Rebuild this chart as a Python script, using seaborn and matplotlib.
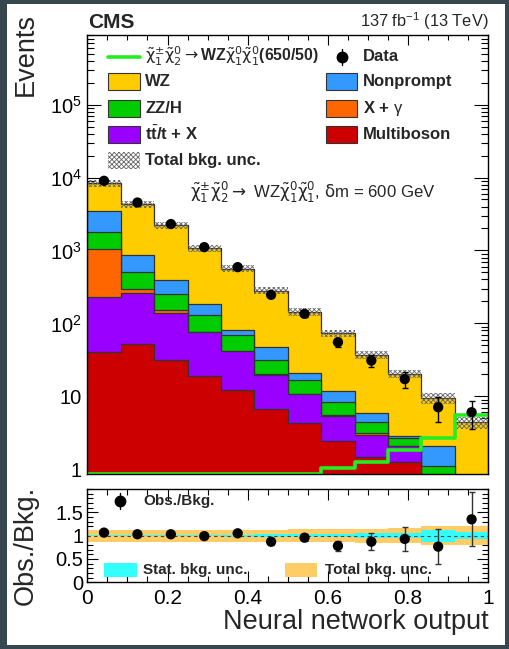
import numpy as np
import pandas as pd
import matplotlib
matplotlib.use("Agg")
import matplotlib.pyplot as plt
import seaborn as sns
from matplotlib.patches import Rectangle
from matplotlib.lines import Line2D
from matplotlib.ticker import FixedLocator, FixedFormatter, MultipleLocator, LogLocator, NullFormatter

# ---------------- data ----------------
bin_edges = [0.0, 1 / 12, 2 / 12, 3 / 12, 4 / 12, 5 / 12, 6 / 12, 7 / 12, 8 / 12, 9 / 12, 10 / 12, 11 / 12, 1.0]
multiboson = [41, 52, 31, 19.2, 12.2, 6.7, 4.36, 2.47, 1.49, 1.27, 0.3, 0.2]
ttx        = [188, 208, 107, 57, 29.4, 13, 6.3, 2.9, 1.46, 0.82, 0.2, 0.1]
xgamma     = [833, 35, 15, 0.8, 0.5, 0.3, 0.2, 0.1, 0.18, 0.0, 0.0, 0.0]
zzh        = [754, 209, 98, 54, 27.3, 11.9, 6.1, 2.9, 1.38, 0.6, 0.6, 0.2]
nonprompt  = [1604, 375, 140, 53, 11.8, 15, 3.9, 3.6, 1.3, 0.14, 1.0, 0.1]
wz         = [4960, 3441, 1854, 897, 484, 235, 124, 61.5, 31.2, 17.5, 7.3, 3.8]
signal     = [0.3, 0.3, 0.3, 0.3, 0.3, 0.3, 0.3, 1.03, 1.25, 1.84, 2.7, 5.5]
data       = [9010, 4540, 2300, 1110, 590, 246, 135, 55.2, 30.9, 17.2, 7.08, 6.05]
data_err   = [95, 67, 48, 33, 24, 16, 11.6, 7.4, 5.6, 4.1, 2.7, 2.5]
ratio      = [1.065, 1.03, 1.03, 0.99, 1.05, 0.87, 0.957, 0.78, 0.87, 0.93, 0.765, 1.35]
ratio_err  = [0.01, 0.016, 0.02, 0.03, 0.04, 0.06, 0.08, 0.1, 0.18, 0.26, 0.37, 0.58]
total_unc_rel = [0.13, 0.13, 0.13, 0.13, 0.13, 0.13, 0.14, 0.14, 0.15, 0.16, 0.20, 0.21]
stat_unc_rel  = [0.01, 0.01, 0.012, 0.015, 0.02, 0.025, 0.03, 0.035, 0.06, 0.05, 0.13, 0.08]

process_names = ["Multiboson", "tt/t + X", "X + γ", "ZZ/H", "Nonprompt", "WZ"]
colors = ["#cc0000", "#9900ff", "#ff6600", "#00cc00", "#3399ff", "#ffcc00"]
yticks_main = [1, 10, 1e2, 1e3, 1e4, 1e5]
yticklabels_main = ["1", "10", r"$10^{2}$", r"$10^{3}$", r"$10^{4}$", r"$10^{5}$"]
xticks = [0, 0.2, 0.4, 0.6, 0.8, 1.0]
xticklabels = ["0", "0.2", "0.4", "0.6", "0.8", "1"]
rticks = [0, 0.5, 1.0, 1.5]
rticklabels = ["0", "0.5", "1", "1.5"]

# ---------------- style ----------------
sns.set_theme(style="ticks")
plt.rcParams["font.family"] = ["Liberation Sans", "DejaVu Sans"]
plt.rcParams["mathtext.fontset"] = "custom"
plt.rcParams["mathtext.rm"] = "Liberation Sans"
plt.rcParams["mathtext.it"] = "Liberation Sans:italic"
plt.rcParams["mathtext.bf"] = "Liberation Sans:bold"
plt.rcParams["hatch.linewidth"] = 0.6

W, H = 510, 649
fig = plt.figure(figsize=(W / 100, H / 100), dpi=100)
fig.patch.set_facecolor("#37474f")
fig.add_artist(Rectangle((7 / W, 4 / H), 498 / W, 641 / H, transform=fig.transFigure,
                         facecolor="white", edgecolor="none", zorder=0))

def fx(px):
    return px / W

def fy(py):
    return 1 - py / H

L, R = 87.3, 488.3
ax = fig.add_axes([fx(L), fy(474), fx(R) - fx(L), fy(35) - fy(474)])
rax = fig.add_axes([fx(L), fy(582.3), fx(R) - fx(L), fy(489) - fy(582.3)])

edges = np.array(bin_edges)
centers = 0.5 * (edges[:-1] + edges[1:])
ymin, ymax = 0.86, 9e5

# ---------------- stacked backgrounds ----------------
cum = np.cumsum(np.array([multiboson, ttx, xgamma, zzh, nonprompt, wz]), axis=0)
for i in reversed(range(len(colors))):
    df = pd.DataFrame({"nn": centers, "events": cum[i]})
    sns.histplot(data=df, x="nn", weights="events", bins=bin_edges, element="step", fill=True,
                 color=colors[i], alpha=1, edgecolor="#333333", linewidth=0.9, ax=ax)

total = cum[-1]
unc = np.array(total_unc_rel) * 0.85
lo = np.append(total * (1 - unc), total[-1] * (1 - unc[-1]))
hi = np.append(total * (1 + unc), total[-1] * (1 + unc[-1]))
ax.fill_between(edges, lo, hi, step="post", facecolor="none", edgecolor="#666666",
                hatch="xxxxxxx", linewidth=0, zorder=3)

# signal (underflow drawn at frame bottom, as ROOT does)
dfs = pd.DataFrame({"nn": centers, "events": np.maximum(signal, ymin * 1.012)})
sns.histplot(data=dfs, x="nn", weights="events", bins=bin_edges,
             element="step", fill=False, color="#22ee22", linewidth=2.6, ax=ax, zorder=4)

ax.errorbar(centers, data, yerr=data_err, fmt="none", ecolor="black", elinewidth=1.0,
            capsize=2.2, capthick=1.0, zorder=5)
sns.scatterplot(x=centers, y=data, color="black", s=55, edgecolor="none", ax=ax, zorder=6)

ax.set_yscale("log")
ax.set_xlim(0, 1)
ax.set_ylim(ymin, ymax)
ax.set_xlabel("")
ax.set_ylabel("")
ax.yaxis.set_major_locator(FixedLocator(yticks_main))
ax.yaxis.set_major_formatter(FixedFormatter(yticklabels_main))
ax.yaxis.set_minor_locator(LogLocator(base=10, subs=np.arange(2, 10)))
ax.yaxis.set_minor_formatter(NullFormatter())
ax.xaxis.set_major_locator(FixedLocator(xticks))
ax.xaxis.set_minor_locator(MultipleLocator(0.05))
ax.tick_params(axis="both", which="both", direction="in", top=True, right=True,
               labelbottom=False, colors="black", width=0.8)
ax.tick_params(axis="y", which="major", length=10, labelsize=14.5, pad=4)
ax.tick_params(axis="y", which="minor", length=5)
ax.tick_params(axis="x", which="major", length=7)
ax.tick_params(axis="x", which="minor", length=3.6)
for s in ax.spines.values():
    s.set_linewidth(1.0)
    s.set_color("black")
    s.set_zorder(10)

# ---------------- legend (main) ----------------
def axf(px, py):
    return ((px - L) / (R - L), (474 - py) / (474 - 35))

rows_y = [56.7, 81.7, 108.3, 134.3, 160.0]
sw_h = 17
leg_font = dict(fontsize=12, fontweight="bold", va="center", ha="left", transform=ax.transAxes,
                zorder=12)

def swatch(x0, x1, yc, **kw):
    a, b = axf(x0, yc + sw_h / 2)
    c, d = axf(x1, yc - sw_h / 2)
    ax.add_patch(Rectangle((a, b), c - a, d - b, transform=ax.transAxes, zorder=12,
                           clip_on=False, **kw))

chi = r"\tilde{\mathrm{\chi}}"
sig_label = (r"$" + chi + r"^{\pm}_{1}" + chi + r"^{0}_{2}\rightarrow$WZ$" + chi
             + r"^{0}_{1}" + chi + r"^{0}_{1}$(650/50)")
ann_label = (r"$" + chi + r"^{\pm}_{1}" + chi + r"^{0}_{2}\rightarrow$ WZ$" + chi
             + r"^{0}_{1}" + chi + r"^{0}_{1}$, $\mathrm{\delta}$m = 600 GeV")

a, yy = axf(108, rows_y[0])
c, _ = axf(140, rows_y[0])
ax.add_line(Line2D([a, c], [yy, yy], transform=ax.transAxes, color="#22ee22", lw=2.6, zorder=12))
sig_font = dict(leg_font, fontsize=11.4)
ax.text(*axf(145, rows_y[0]), sig_label, math_fontfamily="dejavusans", **sig_font)
mx, my = axf(341.7, rows_y[0])
_, my_hi = axf(341.7, rows_y[0] - 8)
_, my_lo = axf(341.7, rows_y[0] + 8)
ax.add_line(Line2D([mx, mx], [my_lo, my_hi], transform=ax.transAxes, color="black", lw=1, zorder=12))
ax.add_line(Line2D([mx], [my], transform=ax.transAxes, color="black", marker="o", ms=7.5,
                   ls="none", zorder=13))
ax.text(*axf(363, rows_y[0]), "Data", **leg_font)

left_entries = [("WZ", 5), ("ZZ/H", 3), (r"t$\bar{\mathbf{t}}$/t + X", 1)]
right_entries = [("Nonprompt", 4), (r"X + $\mathrm{\gamma}$", 2), ("Multiboson", 0)]
for k, (lab, ci) in enumerate(left_entries):
    swatch(108, 140, rows_y[k + 1], facecolor=colors[ci], edgecolor="#333333", lw=0.8)
    ax.text(*axf(145, rows_y[k + 1]), lab, **leg_font)
for k, (lab, ci) in enumerate(right_entries):
    swatch(325.7, 356.7, rows_y[k + 1], facecolor=colors[ci], edgecolor="#333333", lw=0.8)
    ax.text(*axf(363, rows_y[k + 1]), lab, **leg_font)
swatch(108, 140, rows_y[4], facecolor="white", edgecolor="#666666", hatch="xxxxxxx", lw=0)
ax.text(*axf(145, rows_y[4]), "Total bkg. unc.", **leg_font)

ax.text(*axf(190, 192), ann_label, fontsize=12.1, va="center", ha="left",
        math_fontfamily="dejavusans", transform=ax.transAxes, zorder=12)

# ---------------- ratio panel ----------------
tu = np.append(total_unc_rel, total_unc_rel[-1])
su = np.append(stat_unc_rel, stat_unc_rel[-1])
rax.fill_between(edges, 1 - tu, 1 + tu, step="post", color="#ffcc66", linewidth=0, zorder=1)
rax.fill_between(edges, 1 - su, 1 + su, step="post", color="#33ffff", linewidth=0, zorder=2)
rax.axhline(1.0, color="#444444", lw=0.8, ls=(0, (3, 3)), zorder=3)
rax.errorbar(centers, ratio, yerr=ratio_err, fmt="none", ecolor="#333333", elinewidth=1.0,
             capsize=2.2, capthick=1.0, zorder=4)
sns.scatterplot(x=centers, y=ratio, color="black", s=55, edgecolor="none", ax=rax, zorder=5)

rax.set_xlim(0, 1)
rax.set_ylim(0, 2.0)
rax.set_xlabel("")
rax.set_ylabel("")
rax.xaxis.set_major_locator(FixedLocator(xticks))
rax.xaxis.set_major_formatter(FixedFormatter(xticklabels))
rax.xaxis.set_minor_locator(MultipleLocator(0.05))
rax.yaxis.set_major_locator(FixedLocator(rticks))
rax.yaxis.set_major_formatter(FixedFormatter(rticklabels))
rax.yaxis.set_minor_locator(MultipleLocator(0.1))
rax.tick_params(axis="both", which="both", direction="in", top=True, right=True,
                colors="black", width=0.8, labelsize=14.5)
rax.tick_params(axis="x", which="major", length=8, pad=5, labelsize=15)
rax.tick_params(axis="x", which="minor", length=4)
rax.tick_params(axis="y", which="major", length=8, pad=3)
rax.tick_params(axis="y", which="minor", length=4)
for s in rax.spines.values():
    s.set_linewidth(1.0)
    s.set_color("black")
    s.set_zorder(10)

def raxf(px, py):
    return ((px - L) / (R - L), (582.3 - py) / (582.3 - 489))

rfont = dict(fontsize=11, fontweight="bold", va="center", ha="left", transform=rax.transAxes,
             zorder=12)
mx, my = raxf(120, 501)
_, mhi = raxf(120, 493)
_, mlo = raxf(120, 509)
rax.add_line(Line2D([mx, mx], [mlo, mhi], transform=rax.transAxes, color="black", lw=1, zorder=12))
rax.add_line(Line2D([mx], [my], transform=rax.transAxes, color="black", marker="o", ms=7.5,
                    ls="none", zorder=13))
rax.text(*raxf(143, 501), "Obs./Bkg.", **rfont)
for (x0, x1, tx, col, lab) in [(104, 137, 143, "#33ffff", "Stat. bkg. unc."),
                               (285, 317, 325, "#ffcc66", "Total bkg. unc.")]:
    a, b = raxf(x0, 577)
    c, d = raxf(x1, 563)
    rax.add_patch(Rectangle((a, b), c - a, d - b, transform=rax.transAxes, facecolor=col,
                            edgecolor="none", zorder=12))
    rax.text(*raxf(tx, 570), lab, **rfont)

# ---------------- titles ----------------
fig.text(fx(88), fy(28.3), "CMS", fontsize=15, fontweight="bold", ha="left", va="baseline")
fig.text(fx(488.5), fy(27.5), r"137 fb$^{-1}$ (13 TeV)", fontsize=11.8, ha="right", va="baseline")
fig.text(fx(26), fy(13), "Events", fontsize=19.5, rotation=90, ha="center", va="top")
fig.text(fx(26), fy(486), "Obs./Bkg.", fontsize=19.5, rotation=90, ha="center", va="top")
fig.text(fx(488.5), fy(629.3), "Neural network output", fontsize=19.5, ha="right", va="baseline")

fig.savefig("out.png", dpi=100, facecolor=fig.get_facecolor())
